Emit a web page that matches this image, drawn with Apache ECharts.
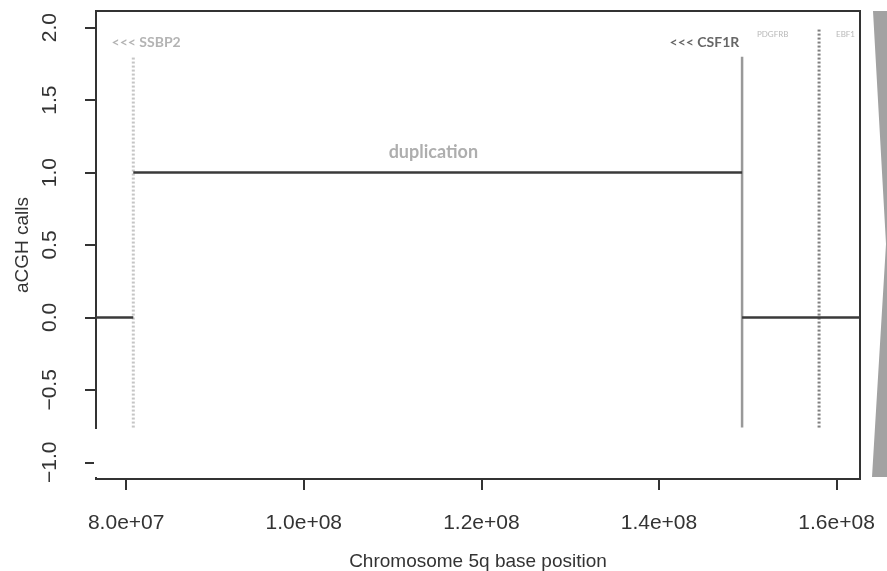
<!DOCTYPE html>
<html>
<head>
<meta charset="utf-8">
<script src="https://cdn.jsdelivr.net/npm/echarts@6/dist/echarts.min.js"></script>
<style>
  html, body { margin: 0; padding: 0; background: #fff; }
  #main { width: 887px; height: 571px; }
</style>
</head>
<body>
<div id="main"></div>
<script>
// axis ranges and ticks
var xMin = 7.66e7, xMax = 1.6264e8;
var yMin = -1.115, yMax = 2.115;
var xTicks = [8e7, 1e8, 1.2e8, 1.4e8, 1.6e8];
var yTicks = [-1, -0.5, 0, 0.5, 1, 1.5, 2];

// copy number segments (start, end, call)
var segStart = [7.66e7, 8.08e7, 1.4936e8];
var segEnd = [8.08e7, 1.4936e8, 1.6264e8];
var segCall = [0, 1, 0];

// gene marker lines
var genePos = [8.08e7, 1.4936e8, 1.5803e8];
var geneTop = [1.8, 1.8, 2.0];
var geneBottom = [-0.76, -0.76, -0.76];

// text labels
var labelText = ['<<< SSBP2', '<<< CSF1R', 'PDGFRB', 'EBF1', 'duplication'];
var labelX = [7.835e7, 1.4905e8, 1.5103e8, 1.5994e8, 1.1459e8];
var labelY = [1.9, 1.9, 1.95, 1.95, 1.14];

var chart = echarts.init(document.getElementById('main'));

function sci(v) { // R style 8.0e+07
  var p = v.toExponential(1).split('e');
  var e = parseInt(p[1], 10);
  var s = e < 0 ? '-' : '+';
  e = Math.abs(e);
  return p[0] + 'e' + s + (e < 10 ? '0' + e : e);
}

var series = [];

for (var i = 0; i < segStart.length; i++) {
  series.push({
    type: 'line',
    data: [[segStart[i], segCall[i]], [segEnd[i], segCall[i]]],
    symbol: 'none',
    lineStyle: { color: '#3a3a3a', width: 2.5 },
    z: 3
  });
}

var geneStyle = [
  { color: '#c6c6c6', width: 3, type: [2, 2] },
  { color: '#999999', width: 2.5, type: 'solid' },
  { color: '#808080', width: 3, type: [2, 2] }
];
for (var j = 0; j < genePos.length; j++) {
  series.push({
    type: 'line',
    data: [[genePos[j], geneBottom[j]], [genePos[j], geneTop[j]]],
    symbol: 'none',
    lineStyle: geneStyle[j],
    z: 2
  });
}

var labelStyle = [
  { color: '#a0a0a0', fontSize: 14, fontWeight: 'bold', align: 'left' },
  { color: '#404040', fontSize: 14, fontWeight: 'bold', align: 'right' },
  { color: '#a8a8a8', fontSize: 8, fontWeight: 'normal', align: 'left' },
  { color: '#a8a8a8', fontSize: 8, fontWeight: 'normal', align: 'left' },
  { color: '#9a9a9a', fontSize: 18, fontWeight: 'bold', align: 'center' }
];
var labelData = [];
for (var k = 0; k < labelText.length; k++) {
  labelData.push({
    value: [labelX[k], labelY[k]],
    name: labelText[k],
    label: {
      show: true,
      position: 'inside',
      formatter: '{b}',
      fontFamily: 'Lato',
      color: labelStyle[k].color,
      fontSize: labelStyle[k].fontSize,
      fontWeight: labelStyle[k].fontWeight,
      align: labelStyle[k].align,
      verticalAlign: 'middle'
    }
  });
}
series.push({
  type: 'scatter',
  symbolSize: 0,
  data: labelData,
  silent: true,
  z: 4
});

chart.setOption({
  animation: false,
  backgroundColor: '#fff',
  textStyle: { fontFamily: 'Liberation Sans' },
  grid: {
    left: 96, right: 27, top: 11, bottom: 92,
    outerBoundsMode: 'none',
    show: true, borderColor: '#333', borderWidth: 2, backgroundColor: 'transparent'
  },
  xAxis: {
    type: 'value',
    min: xMin, max: xMax,
    name: 'Chromosome 5q base position',
    nameLocation: 'middle',
    nameGap: 73,
    nameTextStyle: { fontSize: 19, color: '#333' },
    axisLine: { show: false, onZero: false },
    splitLine: { show: false },
    axisTick: { show: true, length: 11, customValues: xTicks, lineStyle: { color: '#333', width: 2 } },
    axisLabel: { customValues: xTicks, margin: 34, fontSize: 21, color: '#333', formatter: sci }
  },
  yAxis: {
    type: 'value',
    min: yMin, max: yMax,
    name: 'aCGH calls',
    nameLocation: 'middle',
    nameGap: 64,
    nameTextStyle: { fontSize: 19, color: '#333' },
    axisLine: { show: false, onZero: false },
    splitLine: { show: false },
    axisTick: { show: true, length: 11, customValues: yTicks, lineStyle: { color: '#333', width: 2 } },
    axisLabel: {
      customValues: yTicks, margin: 35, rotate: 90, fontSize: 21, color: '#333',
      formatter: function (v) { return (v < 0 ? '\u2212' : '') + Math.abs(v).toFixed(1); }
    }
  },
  graphic: [
    { type: 'rect', shape: { x: 94, y: 429, width: 4, height: 48 }, style: { fill: '#fff' }, z: 100 },
    { type: 'polygon', shape: { points: [[873, 11], [887, 11], [887, 477], [872, 477], [886, 244]] },
      style: { fill: '#a2a2a2' }, z: 100 }
  ],
  series: series
});
</script>
</body>
</html>
